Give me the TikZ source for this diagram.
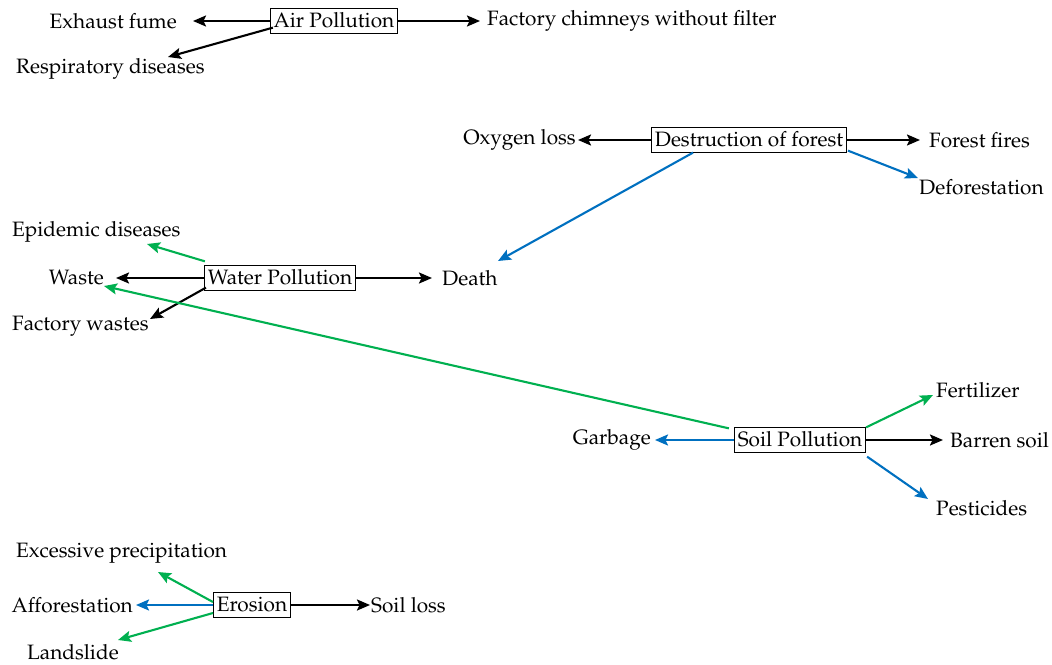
\documentclass[tikz,border=0pt]{standalone}
\usepackage[T1]{fontenc}
\usepackage{mathpazo}
\usetikzlibrary{arrows.meta,calc}
\definecolor{lineblue}{RGB}{0,112,192}
\definecolor{linegreen}{RGB}{0,176,80}
\begin{document}
\begin{tikzpicture}[x=1pt,y=-1pt,
  every node/.style={font=\fontsize{20.8}{24}\selectfont},
  topic/.style={draw, line width=0.8pt, inner xsep=3.5pt, inner ysep=2.5pt,
                text height=16pt, text depth=3.5pt},
  item/.style={inner sep=0pt},
  link/.style={line width=2.1pt, -{Stealth[length=13pt,width=11pt,inset=2.5pt]}},
  blk/.style={link, black},
  blu/.style={link, lineblue},
  grn/.style={link, linegreen}]
\useasboundingbox (0,0) rectangle (1052,664);

% Air pollution
\node[topic] (air) at (334,21) {Air Pollution};
\node[item, anchor=east] (exhaust) at (177,21) {Exhaust fume};
\node[item, anchor=west] (chimney) at (487,21) {Factory chimneys without filter};
\node[item, anchor=west] (resp) at (16,69) {Respiratory diseases};
\draw[blk] (air.west) -- ([xshift=16pt]exhaust.east);
\draw[blk] (air.east) -- ([xshift=-7pt]chimney.west);
\draw[blk] ([xshift=3pt,yshift=6pt]air.south west) -- ([xshift=152pt,yshift=12pt]resp.west);

% Destruction of forest
\node[topic] (forest) at (749,140) {Destruction of forest};
\node[item, anchor=east] (oxygen) at (576,140) {Oxygen loss};
\node[item, anchor=west] (fires) at (929,140) {Forest fires};
\node[item, anchor=west] (defor) at (919,187) {Deforestation};
\draw[blk] (forest.west) -- ([xshift=2pt]oxygen.east);
\draw[blk] (forest.east) -- ([xshift=-9pt]fires.west);
\draw[blu] ([xshift=1pt,yshift=2pt]forest.south east) -- ([xshift=-1pt,yshift=9pt]defor.west);

% Water pollution
\node[topic] (water) at (280,278) {Water Pollution};
\node[item, anchor=east] (waste) at (104,278) {Waste};
\node[item, anchor=west] (death) at (442,278) {Death};
\node[item, anchor=west] (epid) at (12,232) {Epidemic diseases};
\node[item, anchor=west] (factory) at (12,326) {Factory wastes};
\draw[blk] (water.west) -- ([xshift=12pt]waste.east);
\draw[blk] (water.east) -- ([xshift=-10pt]death.west);
\draw[grn] ([xshift=1pt,yshift=4pt]water.north west) -- ([xshift=135pt,yshift=-12pt]epid.west);
\draw[blk] ([xshift=2pt,yshift=3pt]water.south west) -- ([xshift=138pt,yshift=7pt]factory.west);
\draw[blu] ([xshift=-56pt]forest.south) -- ([xshift=56pt,yshift=17pt]death.west);

% Soil pollution
\node[topic] (soil) at (800,440) {Soil Pollution};
\node[item, anchor=east] (garbage) at (651,440) {Garbage};
\node[item, anchor=west] (fert) at (936,390) {Fertilizer};
\node[item, anchor=west] (barren) at (950,440) {Barren soil};
\node[item, anchor=west] (pest) at (936,508) {Pesticides};
\draw[blu] (soil.west) -- ([xshift=4pt]garbage.east);
\draw[grn] (soil.north east) -- ([xshift=-3pt,yshift=-5pt]fert.west);
\draw[blk] (soil.east) -- ([xshift=-7pt]barren.west);
\draw[blu] ([xshift=1pt,yshift=-4pt]soil.south east) -- ([xshift=-8pt,yshift=9pt]pest.west);
\draw[grn] ([xshift=-5pt,yshift=-1pt]soil.north west) -- ([yshift=-8pt]waste.east);

% Erosion
\node[topic] (erosion) at (252,605) {Erosion};
\node[item, anchor=west] (excess) at (16,553) {Excessive precipitation};
\node[item, anchor=east] (affor) at (133,605) {Afforestation};
\node[item, anchor=west] (soilloss) at (371,605) {Soil loss};
\node[item, anchor=west] (land) at (27,652) {Landslide};
\draw[grn] ([yshift=3pt]erosion.west) -- ([xshift=142pt,yshift=-19pt]excess.west);
\draw[blu] (erosion.west) -- ([xshift=3pt]affor.east);
\draw[blk] (erosion.east) -- ([xshift=-1pt]soilloss.west);
\draw[grn] ([yshift=-8pt]erosion.west) -- ([xshift=91pt,yshift=12pt]land.west);
\end{tikzpicture}
\end{document}
